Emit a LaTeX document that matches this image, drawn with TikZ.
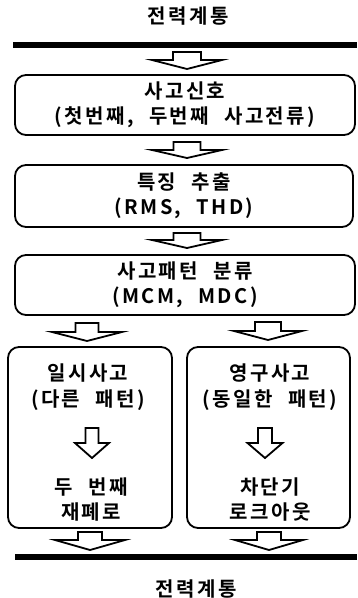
\documentclass[tikz,border=0pt]{standalone}
\usepackage{fontspec}
\setmainfont{Noto Sans CJK KR}[LetterSpace=12, WordSpace=2.2, BoldFont={Noto Sans CJK KR Bold}]
\newcommand\boxfont{\fontsize{20}{25.5}\selectfont\bfseries}
\newcommand\titlefont{\fontsize{20}{22}\selectfont\bfseries}
\newcommand\hollowarrow[6]{% cx, top, shoulder, tip, stem half width, head half width
  \draw[blockarr] (#1-#5,#2) -- (#1+#5,#2) -- (#1+#5,#3) -- (#1+#6,#3) -- (#1,#4)
    -- (#1-#6,#3) -- (#1-#5,#3) -- cycle;}
\begin{document}
\begin{tikzpicture}[x=1pt,y=-1pt,
  box/.style={draw, line width=1.8pt, rounded corners=11pt, align=center, inner sep=0pt, font=\boxfont},
  txt/.style={align=center, inner sep=0pt, font=\boxfont},
  blockarr/.style={draw, line width=1.8pt, line join=miter, fill=white},
  bus/.style={line width=5.5pt},
  title/.style={inner sep=0pt, font=\titlefont}]
\useasboundingbox (0,0) rectangle (357,598);
% titles
\node[title] (ttop) at (188,16) {전력계통};
\node[title] (tbot) at (196,589) {전력계통};
% buses
\coordinate (bus1l) at (13,45); \coordinate (bus1r) at (357,45);
\coordinate (bus2l) at (15,557); \coordinate (bus2r) at (357,557);
\draw[bus] (bus1l) -- (bus1r);
\draw[bus] (bus2l) -- (bus2r);
% boxes
\node[box, minimum width=340pt, minimum height=60pt] (b1) at (185,105)
  {사고신호\\(첫번째, 두번째 사고전류)};
\node[box, minimum width=338pt, minimum height=62pt] (b2) at (184,196)
  {특징 추출\\(RMS, THD)};
\node[box, minimum width=340pt, minimum height=60pt] (b3) at (185,285)
  {사고패턴 분류\\(MCM, MDC)};
\node[box, minimum width=164pt, minimum height=181pt] (bl) at (90,437.5) {};
\node[box, minimum width=163pt, minimum height=181pt] (br) at (268.5,437.5) {};
% texts in lower boxes
\node[txt] (tl1) at (88,387) {일시사고\\(다른 패턴)};
\node[txt] (tl2) at (91,499.5) {두 번째\\재폐로};
\node[txt] (tr1) at (270,387) {영구사고\\(동일한 패턴)};
\node[txt] (tr2) at (270,499.5) {차단기\\로크아웃};
% block arrows
\hollowarrow{187}{52}{60}{69}{14}{35}
\hollowarrow{187}{142}{150}{158}{13.5}{35}
\hollowarrow{187}{233}{240}{248}{13.5}{35}
\hollowarrow{87}{323}{332}{341}{11.5}{35}
\hollowarrow{268}{322}{331}{340}{13}{34}
\hollowarrow{92}{428}{443}{458}{6.5}{17}
\hollowarrow{265}{428}{443}{458}{7}{17.5}
\hollowarrow{90}{532}{540}{550}{12}{35}
\hollowarrow{269}{532}{540}{550}{12}{34}
\end{tikzpicture}
\end{document}
